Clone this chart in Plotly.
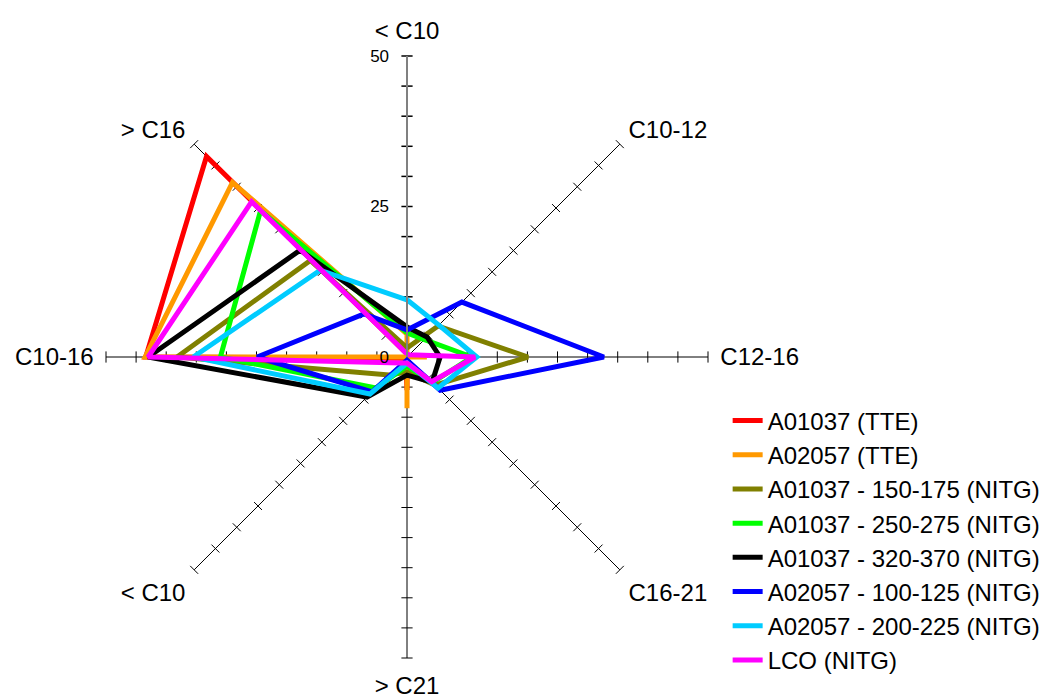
import plotly.graph_objects as go

# Axis labels, clockwise from the top
axis_labels = ["< C10", "C10-12", "C12-16", "C16-21", "> C21", "< C10", "C10-16", "> C16"]
axis_angles = [0, 45, 90, 135, 180, 225, 270, 315]

series_names = [
    "A01037 (TTE)",
    "A02057 (TTE)",
    "A01037 - 150-175 (NITG)",
    "A01037 - 250-275 (NITG)",
    "A01037 - 320-370 (NITG)",
    "A02057 - 100-125 (NITG)",
    "A02057 - 200-225 (NITG)",
    "LCO (NITG)",
]

a01037_tte = [0.5, 0.0, 0.3, 0.0, 5.5, 0.3, 43.4, 47.1]
a02057_tte = [3.8, 0.0, 3.3, 0.0, 8.5, 0.0, 43.5, 41.0]
a01037_150_175 = [1.5, 7.3, 20.1, 6.6, 2.5, 4.2, 38.2, 22.7]
a01037_250_275 = [4.0, 4.1, 10.8, 6.0, 1.5, 7.3, 31.0, 34.4]
a01037_320_370 = [5.0, 4.7, 5.5, 5.9, 3.0, 9.4, 43.0, 25.1]
a02057_100_125 = [4.5, 12.9, 32.7, 7.8, 0.5, 8.2, 24.9, 10.1]
a02057_200_225 = [9.5, 7.5, 11.6, 7.3, 1.0, 8.7, 35.5, 20.4]
lco_nitg = [0.5, 0.5, 11.3, 5.8, 1.0, 1.4, 43.0, 36.5]

series_values = [
    a01037_tte, a02057_tte, a01037_150_175, a01037_250_275,
    a01037_320_370, a02057_100_125, a02057_200_225, lco_nitg,
]
series_colors = ["#FF0000", "#FF9900", "#808000", "#00FF00",
                 "#000000", "#0000FF", "#00CCFF", "#FF00FF"]

radial_ticks = [0, 5, 10, 15, 20, 25, 30, 35, 40, 45, 50]
radial_tick_text = ["0", "", "", "", "", "25", "", "", "", "", "50"]

FONT = "Liberation Sans, Arial, sans-serif"

fig = go.Figure()

# Cross-bar tick marks along every spoke
for ang in axis_angles:
    screen_deg = 90 - ang  # counterclockwise from east on screen
    fig.add_trace(go.Scatterpolar(
        r=radial_ticks[1:],
        theta=[ang] * (len(radial_ticks) - 1),
        mode="markers",
        marker=dict(symbol="line-ns", size=8, angle=-screen_deg,
                    line=dict(color="#000000", width=1.5 if ang == 0 else 1)),
        showlegend=False,
        hoverinfo="skip",
    ))

for name, vals, col in zip(series_names, series_values, series_colors):
    fig.add_trace(go.Scatterpolar(
        r=vals + vals[:1],
        theta=axis_angles + axis_angles[:1],
        mode="lines",
        name=name,
        legendgroup=name,
        line=dict(color=col, width=5),
    ))

fig.update_layout(
    width=1050,
    height=699,
    margin=dict(l=0, r=0, t=0, b=0),
    paper_bgcolor="white",
    plot_bgcolor="white",
    font=dict(family=FONT, color="black"),
    polar=dict(
        domain=dict(x=[106 / 1050, 708 / 1050], y=[41 / 699, 643 / 699]),
        bgcolor="white",
        angularaxis=dict(
            rotation=90,
            direction="clockwise",
            tickmode="array",
            tickvals=axis_angles,
            ticktext=axis_labels,
            showline=False,
            showgrid=True,
            gridcolor="#000000",
            gridwidth=1,
            ticks="outside",
            ticklen=7,
            tickcolor="rgba(0,0,0,0)",
            tickfont=dict(size=24, family=FONT),
        ),
        radialaxis=dict(
            angle=90,
            range=[0, 50],
            tickmode="array",
            tickvals=radial_ticks,
            ticktext=radial_tick_text,
            showgrid=False,
            showline=True,
            linecolor="#808080",
            linewidth=2,
            ticks="outside",
            ticklen=11,
            tickcolor="rgba(0,0,0,0)",
            side="counterclockwise",
            tickangle=90,
            tickfont=dict(size=17, family=FONT),
        ),
    ),
    legend=dict(
        x=0.693,
        y=0.43,
        xanchor="left",
        yanchor="top",
        font=dict(size=24, family=FONT),
        tracegroupgap=0,
        bgcolor="rgba(0,0,0,0)",
    ),
)

fig.write_html("out.html")
